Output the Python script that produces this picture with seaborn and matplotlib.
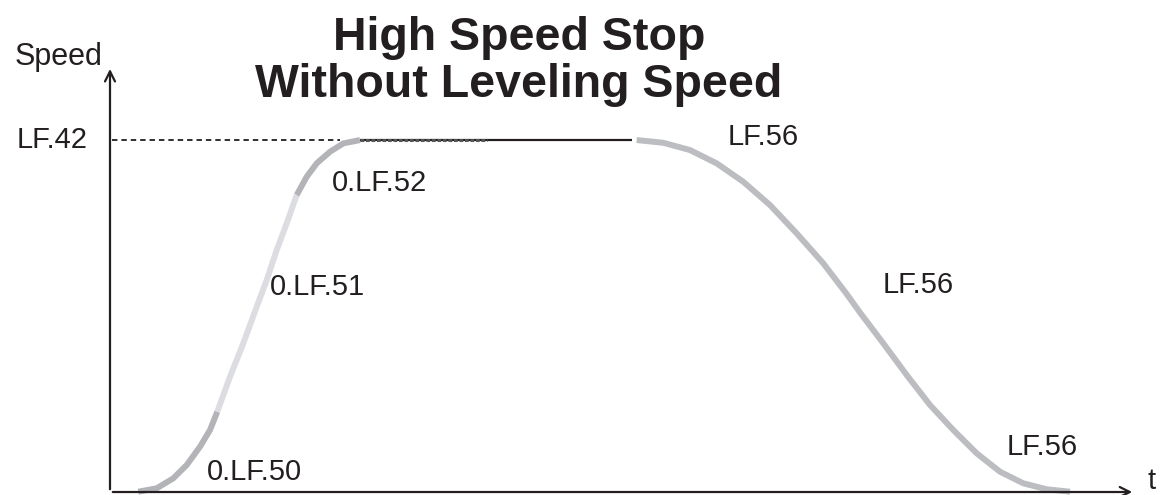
import numpy as np
import pandas as pd
import matplotlib
matplotlib.use("Agg")
import matplotlib.pyplot as plt
import seaborn as sns

# curve: time (arbitrary units) vs speed (% of LF.42)
t_lf50 = [2.83, 4.67, 6.33, 7.67, 9.0, 10.0, 10.73]
v_lf50 = [0.09, 1.05, 3.89, 7.67, 12.87, 17.61, 22.81]

t_lf51 = [10.73, 12.0, 13.33, 14.67, 15.67, 16.67, 17.67, 18.67]
v_lf51 = [22.81, 32.76, 42.24, 52.64, 60.23, 68.75, 76.34, 84.38]

t_lf52 = [18.67, 19.67, 20.67, 22.0, 23.33, 25.0]
v_lf52 = [84.38, 89.57, 93.38, 96.68, 99.06, 100.0]

t_flat = [25.0, 52.2]
v_flat = [100.0, 100.0]

t_lf56 = [52.67, 55.33, 58.0, 60.67, 63.33, 66.0, 68.67, 71.33, 73.67, 75.0,
          77.33, 79.67, 82.0, 84.33, 86.67, 89.0, 91.33, 93.67, 96.0]
v_lf56 = [100.0, 99.23, 97.16, 93.38, 88.15, 81.53, 73.49, 64.97, 56.25, 50.99,
          42.24, 33.24, 24.72, 17.61, 10.99, 5.77, 2.47, 0.77, 0.09]

lf42_level = 100.0
dash_end = 23.0
overlay_end = 37.7

sns.set_theme(style="white")
plt.rcParams['font.family'] = ['Liberation Sans', 'DejaVu Sans']
txt = '#231f20'

fig = plt.figure(figsize=(11.63, 4.95), dpi=100)
ax = fig.add_axes([0, 0, 1, 1])
ax.set_xlim(-11, 105.3)
ax.set_ylim(-0.85, 139.8)
ax.axis('off')

seg_cols = {'50': '#b3b4b8', '51': '#dcdde0', '52': '#b3b4b8', '56': '#bcbdc1'}
for key, tt, vv in [('50', t_lf50, v_lf50), ('51', t_lf51, v_lf51),
                    ('52', t_lf52, v_lf52), ('56', t_lf56, v_lf56)]:
    df = pd.DataFrame({'t': tt, 'v': vv})
    sns.lineplot(data=df, x='t', y='v', ax=ax, color=seg_cols[key], lw=4.3,
                 sort=False, solid_capstyle='butt', solid_joinstyle='round')

# constant speed
sns.lineplot(x=t_flat, y=v_flat, ax=ax, color=txt, lw=1.6, solid_capstyle='butt')
ax.plot([t_flat[0], overlay_end], [lf42_level, lf42_level], color='#555555', lw=2.2,
        dashes=(1.2, 0.6))
ax.plot([0.2, dash_end], [lf42_level, lf42_level], color=txt, lw=1.3, dashes=(3, 2.2))

# axes with arrows
ax.annotate('', xy=(0, 121), xytext=(0, 0),
            arrowprops=dict(arrowstyle='->', lw=1.6, color=txt, mutation_scale=18))
ax.annotate('', xy=(102.5, 0), xytext=(0, 0),
            arrowprops=dict(arrowstyle='->', lw=1.6, color=txt, mutation_scale=18))

fs = 21
ax.text(-9.5, 123.6, 'Speed', fontsize=22, color=txt, va='center', ha='left')
ax.text(-2.2, lf42_level, 'LF.42', fontsize=fs, color=txt, va='center', ha='right')
ax.text(22.2, 87.8, '0.LF.52', fontsize=fs, color=txt, va='center')
ax.text(16.0, 58.2, '0.LF.51', fontsize=fs, color=txt, va='center')
ax.text(9.7, 5.7, '0.LF.50', fontsize=fs, color=txt, va='center')
ax.text(61.8, 100.9, 'LF.56', fontsize=fs, color=txt, va='center')
ax.text(77.3, 58.8, 'LF.56', fontsize=fs, color=txt, va='center')
ax.text(89.7, 12.8, 'LF.56', fontsize=fs, color=txt, va='center')
ax.text(103.7, 3.1, 't', fontsize=fs, color=txt, va='center')

fig.text(0.446, 1 - 50 / 495, 'High Speed Stop', ha='center', va='baseline',
         fontsize=33.5, fontweight='bold', color=txt)
fig.text(0.446, 1 - 97 / 495, 'Without Leveling Speed', ha='center', va='baseline',
         fontsize=33.5, fontweight='bold', color=txt)

fig.savefig('out.png', dpi=100)
